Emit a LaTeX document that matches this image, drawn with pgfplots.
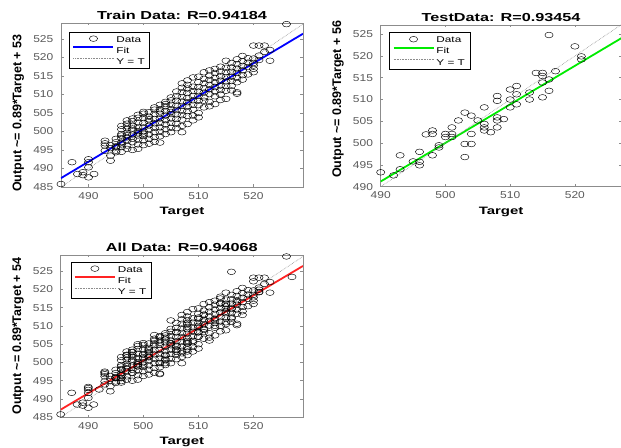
\documentclass[border=0pt]{standalone}
\usepackage{fontspec}
\setmainfont{Liberation Sans}
\newfontfamily\widefont{Liberation Sans}[FakeStretch=1.4]
\newfontfamily\tickfont{Liberation Sans}[FakeStretch=1.2]
\usepackage{pgfplots}
\pgfplotsset{compat=1.18}
\usepackage{pgfplotstable}

\definecolor{framegray}{gray}{0.55}
\definecolor{ticktext}{gray}{0.35}
\definecolor{fitblue}{RGB}{0,0,255}
\definecolor{fitgreen}{RGB}{0,235,0}
\definecolor{fitred}{RGB}{255,35,35}

% training targets / outputs
\pgfplotstableread{
x y
485 485.8
487 491.7
488 488.5
489 489.0
489 488.2
490 491.7
490 490.3
490 487.6
490 492.5
491 488.5
493 497.5
493 496.2
493 494.8
493 496.8
494 493.5
494 492.1
494 495.5
494 496.3
495 494.4
495 495.7
495 497.1
495 494.8
495 498.0
495 496.0
496 500.6
496 499.3
496 498.2
496 497.0
496 495.8
496 494.5
496 501.5
496 496.5
496 498.9
497 502.1
497 500.8
497 499.6
497 498.4
497 497.5
497 496.2
497 495.3
497 501.4
497 503.0
497 499.0
498 502.8
498 501.6
498 500.3
498 499.2
498 498.0
498 497.1
498 495.0
498 503.5
498 500.8
499 503.7
499 502.4
499 501.2
499 500.1
499 498.9
499 497.8
499 496.5
499 495.3
499 504.5
499 499.5
500 504.8
500 503.6
500 502.3
500 501.1
500 500.0
500 498.8
500 497.6
500 496.3
500 505.3
500 499.4
501 505.2
501 504.0
501 502.8
501 501.6
501 500.5
501 499.2
501 498.0
501 496.7
501 503.3
502 505.9
502 504.7
502 503.4
502 502.2
502 501.0
502 499.8
502 498.5
502 497.2
502 506.5
503 507.2
503 506.0
503 504.8
503 503.5
503 502.3
503 501.1
503 499.9
503 498.7
503 497.0
503 505.4
504 508.0
504 506.8
504 505.5
504 504.3
504 503.1
504 501.9
504 500.6
504 499.3
504 507.4
505 508.4
505 507.2
505 506.0
505 504.7
505 503.5
505 502.3
505 501.0
505 499.8
505 509.2
505 505.3
506 509.5
506 508.3
506 507.0
506 505.8
506 504.6
506 503.4
506 502.1
506 500.9
506 510.8
507 513.0
507 510.6
507 509.3
507 508.1
507 506.9
507 505.6
507 504.4
507 503.2
507 501.5
507 499.8
507 511.8
508 513.8
508 511.6
508 510.4
508 509.1
508 507.9
508 506.7
508 505.5
508 504.2
508 502.0
508 512.6
509 514.6
509 512.1
509 510.9
509 509.6
509 508.4
509 507.2
509 505.9
509 504.3
509 503.0
510 514.8
510 513.3
510 512.0
510 510.8
510 509.6
510 508.3
510 507.1
510 505.0
510 503.8
511 516.0
511 514.2
511 513.0
511 511.7
511 510.5
511 509.2
511 508.3
511 506.5
512 516.5
512 515.1
512 513.9
512 512.6
512 511.4
512 510.1
512 508.0
512 506.8
513 516.9
513 515.8
513 514.5
513 513.3
513 512.0
513 510.8
513 509.5
513 507.4
514 517.5
514 516.2
514 514.9
514 513.7
514 512.4
514 511.2
514 510.0
514 508.5
515 519.1
515 517.2
515 516.0
515 514.7
515 513.5
515 512.3
515 511.0
515 508.8
516 518.5
516 517.3
516 516.1
516 514.8
516 513.6
516 512.3
516 511.1
517 519.5
517 518.2
517 517.0
517 515.8
517 514.5
517 513.3
517 510.6
517 510.2
518 520.4
518 519.0
518 517.7
518 516.5
518 515.2
518 514.0
519 519.8
519 518.6
519 517.4
519 515.4
520 523.2
520 519.7
520 518.5
520 517.8
520 516.9
520 516.0
521 523.2
521 520.5
521 519.3
522 523.2
522 521.5
523 519.1
523 522.0
526 529.0
}\traindata

% test targets / outputs
\pgfplotstableread{
x y
490 493.3
492 492.6
493 494.0
493 497.2
495 495.8
496 498.0
496 495.7
496 494.9
497 502.0
498 497.2
498 502.9
498 502.1
499 499.5
499 499.0
500 502.1
500 501.4
501 502.1
501 501.4
501 503.6
502 505.2
503 507.0
503 499.8
503 496.8
504 506.3
504 502.1
504 499.8
505 505.2
506 508.2
506 504.4
506 503.6
506 502.9
507 502.5
508 510.8
508 509.7
508 505.9
508 505.2
508 503.6
509 505.5
510 510.0
510 508.2
510 512.3
511 513.1
511 511.2
511 508.9
513 511.6
513 510.0
514 516.1
515 516.1
515 515.4
515 513.9
515 510.5
516 514.6
516 512.0
516 524.8
517 516.5
520 522.2
521 519.9
521 519.2
}\testdata

% remaining (validation) points, seen only in the all-data panel
\pgfplotstableread{
x y
527 523.4
490 493.0
505 511.5
512 506.0
499 505.0
514 518.0
508 503.0
502 507.5
518 513.0
496 496.5
510 507.0
504 501.0
}\valdata

\pgfplotsset{
  regplot/.style={
    scale only axis,
    anchor=south west,
    axis line style={framegray, line width=0.5bp},
    tick style={framegray, line width=0.5bp},
    tick align=inside,
    major tick length=2.5bp,
    /pgf/number format/assume math mode=true,
    /pgf/number format/1000 sep={},
    tick label style={font=\tickfont\fontsize{10bp}{10bp}\selectfont, text=ticktext, inner sep=0pt},
    yticklabel style={xshift=-7.5bp},
    xticklabel style={yshift=-5bp},
    xtick={490,500,510,520},
    title style={font=\widefont\bfseries\fontsize{11.6bp}{12bp}\selectfont,
      at={(axis description cs:0.5,1)}, anchor=base, yshift=-2.5bp, inner sep=0pt},
    xlabel={Target},
    xlabel style={font=\widefont\bfseries\fontsize{10.7bp}{11bp}\selectfont,
      at={(axis description cs:0.5,0)}, anchor=north, yshift=-20bp, inner sep=0pt},
    ylabel style={font=\bfseries\fontsize{12.5bp}{13bp}\selectfont, anchor=center, inner sep=0pt},
    legend cell align=left,
    legend style={draw=black, line width=0.7bp, fill=white, anchor=north west,
      font=\widefont\fontsize{8.4bp}{9bp}\selectfont,
      inner xsep=3bp, inner ysep=1.5bp, row sep=0bp, column sep=0bp,
      nodes={inner xsep=2bp, inner ysep=2.6bp, text height=6bp, text depth=0bp}},
  },
  datamarks/.style={only marks, mark=o, black, mark size=2.85bp,
    mark options={xscale=1.45, line width=0.45bp},
    legend image code/.code={\draw[black, line width=0.45bp]
      (20bp,0.5bp) ellipse [x radius=4.1bp, y radius=2.85bp];}},
  fitline/.style={#1, line width=1.8bp,
    legend image code/.code={\draw[#1, line width=1.8bp] (0bp,3bp) -- (40bp,3bp);}},
  ytline/.style={densely dotted, black!45, line width=0.6bp,
    legend image code/.code={\draw[densely dotted, black!45, line width=0.6bp]
      (0bp,3bp) -- (40bp,3bp);}},
}

\begin{document}
\begin{tikzpicture}
\useasboundingbox (0,0) rectangle (621bp,448bp);

% training panel
\begin{axis}[regplot, at={(61bp,261bp)}, width=242bp, height=164bp,
  xmin=485, xmax=529, ymin=485, ymax=529.3, ytick={485,490,...,525},
  title={Train Data: R=0.94184},
  ylabel={Output \textasciitilde= 0.89*Target + 53},
  ylabel style={at={(axis description cs:-0.1765,0.45)}},
  legend style={at={(axis description cs:0.034,0.947)}}]
\addplot[datamarks] table {\traindata};
\addlegendentry{Data}
\addplot[fitline=fitblue] coordinates {(485,487.4) (529,526.4)};
\addlegendentry{Fit}
\addplot[ytline] coordinates {(485,485) (529.3,529.3)};
\addlegendentry{Y = T}
\end{axis}

% test panel
\begin{axis}[regplot, at={(380.7bp,261.3bp)}, width=240.8bp, height=161.7bp,
  xmin=490, xmax=527.2, ymin=490, ymax=527.1, ytick={490,495,...,525},
  title={TestData: R=0.93454},
  ylabel={Output \textasciitilde= 0.89*Target + 56},
  ylabel style={at={(axis description cs:-0.1773,0.54)}},
  legend style={at={(axis description cs:0.0357,0.955)}}]
\addplot[datamarks] table {\testdata};
\addlegendentry{Data}
\addplot[fitline=fitgreen] coordinates {(490,491.2) (527.2,524.1)};
\addlegendentry{Fit}
\addplot[ytline] coordinates {(490,490) (527.2,527.2)};
\addlegendentry{Y = T}
\end{axis}

% all data panel
\begin{axis}[regplot, at={(60.7bp,30.7bp)}, width=242.3bp, height=162.3bp,
  xmin=485, xmax=529, ymin=485, ymax=529.4, ytick={485,490,...,525},
  title={All Data: R=0.94068},
  ylabel={Output \textasciitilde= 0.89*Target + 54},
  ylabel style={at={(axis description cs:-0.176,0.5)}},
  legend style={at={(axis description cs:0.041,0.959)}}]
\addplot[datamarks] table {\traindata};
\addlegendentry{Data}
\addplot[fitline=fitred] coordinates {(485,487.1) (529,526.4)};
\addlegendentry{Fit}
\addplot[ytline] coordinates {(485,485) (529.4,529.4)};
\addlegendentry{Y = T}
\addplot[datamarks, forget plot] table {\testdata};
\addplot[datamarks, forget plot] table {\valdata};
\end{axis}
\end{tikzpicture}
\end{document}
